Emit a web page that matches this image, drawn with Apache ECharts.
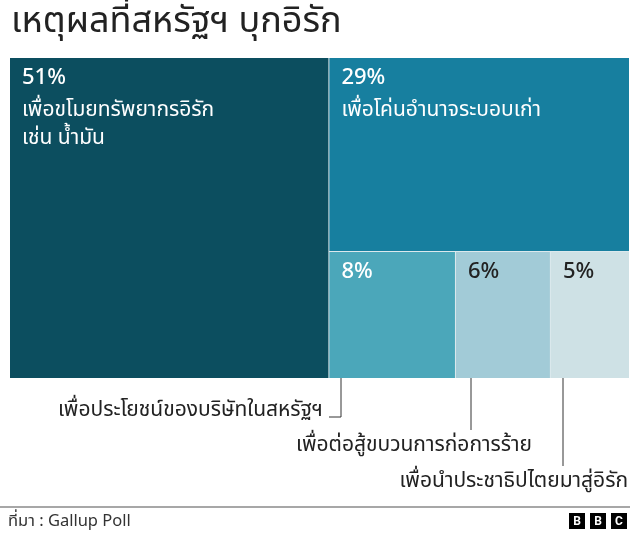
<!DOCTYPE html>
<html>
<head>
<meta charset="utf-8">
<script src="https://cdn.jsdelivr.net/npm/echarts@6/dist/echarts.min.js"></script>
<style>
  html, body { margin: 0; padding: 0; background: #fff; }
  #chart { width: 640px; height: 538px; }
</style>
</head>
<body>
<div id="chart"></div>
<script>
// ข้อมูล: เหตุผลที่สหรัฐฯ บุกอิรัก (Gallup Poll)
var reasons = [
  'เพื่อขโมยทรัพยากรอิรัก\nเช่น น้ำมัน',
  'เพื่อโค่นอำนาจระบอบเก่า',
  'เพื่อประโยชน์ของบริษัทในสหรัฐฯ',
  'เพื่อต่อสู้ขบวนการก่อการร้าย',
  'เพื่อนำประชาธิปไตยมาสู่อิรัก'
];
var shares = [51, 29, 8, 6, 5];
var boxColors = ['#0c4e5f', '#177f9f', '#4ba7ba', '#a2cbd7', '#cee1e5'];
var textColors = ['#ffffff', '#ffffff', '#ffffff', '#222222', '#222222'];
// ชื่อแสดงในกล่องเฉพาะกล่องใหญ่ ที่เหลือใช้เส้นชี้ด้านล่าง
var nameInside = [true, true, false, false, false];

var FONT = '"Noto Sans Thai", "Noto Sans", sans-serif';

function leaf(i) {
  var txt = '{p|' + shares[i] + '%}';
  if (nameInside[i]) {
    txt += '\n' + reasons[i].split('\n').map(function (s) { return '{n|' + s + '}'; }).join('\n');
  }
  return {
    name: reasons[i],
    value: shares[i],
    itemStyle: { color: boxColors[i], borderWidth: 0 },
    label: {
      formatter: txt,
      rich: {
        p: { fontSize: 22, fontWeight: 500, color: textColors[i], lineHeight: 36, fontFamily: FONT },
        n: { fontSize: 21, color: textColors[i], lineHeight: 28, fontFamily: FONT }
      }
    }
  };
}

// 51% | (29% / (8% 6% 5%))
var treeData = [
  leaf(0),
  {
    name: 'rest',
    children: [
      leaf(1),
      { name: 'small', children: [leaf(2), leaf(3), leaf(4)] }
    ]
  }
];

var chart = echarts.init(document.getElementById('chart'));

var lineColor = '#333';
var noteStyle = { fontSize: 21, fill: '#222', fontFamily: FONT };

chart.setOption({
  animation: false,
  title: {
    text: 'เหตุผลที่สหรัฐฯ บุกอิรัก',
    left: 6,
    top: 2,
    textStyle: { fontSize: 36, fontWeight: 'normal', color: '#222', fontFamily: FONT }
  },
  series: [{
    type: 'treemap',
    left: 10,
    top: 58,
    width: 619,
    height: 320,
    roam: false,
    nodeClick: false,
    squareRatio: 1,
    breadcrumb: { show: false },
    sort: false,
    itemStyle: { borderWidth: 0, gapWidth: 1, borderColor: '#dce9ed' },
    upperLabel: { show: false },
    label: {
      show: true,
      position: 'insideTopLeft',
      padding: [4, 4, 4, 12],
      overflow: 'none'
    },
    emphasis: { disabled: true },
    data: treeData
  }],
  graphic: [
    // เส้นชี้ 8%
    { type: 'polyline', shape: { points: [[341, 358], [341, 417], [329, 417]] }, style: { stroke: lineColor, lineWidth: 1, fill: null } },
    { type: 'text', style: Object.assign({ text: reasons[2], x: 323, y: 412, align: 'right', verticalAlign: 'middle' }, noteStyle) },
    // เส้นชี้ 6%
    { type: 'line', shape: { x1: 471, y1: 358, x2: 471, y2: 430 }, style: { stroke: lineColor, lineWidth: 1 } },
    { type: 'text', style: Object.assign({ text: reasons[3], x: 532, y: 447, align: 'right', verticalAlign: 'middle' }, noteStyle) },
    // เส้นชี้ 5%
    { type: 'line', shape: { x1: 563, y1: 358, x2: 563, y2: 466 }, style: { stroke: lineColor, lineWidth: 1 } },
    { type: 'text', style: Object.assign({ text: reasons[4], x: 628, y: 483, align: 'right', verticalAlign: 'middle' }, noteStyle) },
    // ส่วนท้าย
    { type: 'line', shape: { x1: 0, y1: 507, x2: 630, y2: 507 }, style: { stroke: '#8a8a8a', lineWidth: 1.5 } },
    { type: 'text', style: { text: 'ที่มา : Gallup Poll', x: 8, y: 523, verticalAlign: 'middle', fontSize: 16.5, fill: '#333', fontFamily: FONT } },
    { type: 'rect', shape: { x: 569, y: 513, width: 16, height: 16 }, style: { fill: '#000' } },
    { type: 'rect', shape: { x: 590, y: 513, width: 16, height: 16 }, style: { fill: '#000' } },
    { type: 'rect', shape: { x: 611, y: 513, width: 16, height: 16 }, style: { fill: '#000' } },
    { type: 'text', style: { text: 'B', x: 577, y: 521.5, align: 'center', verticalAlign: 'middle', fontSize: 12, fontWeight: 'bold', fill: '#fff', fontFamily: 'Roboto, sans-serif' } },
    { type: 'text', style: { text: 'B', x: 598, y: 521.5, align: 'center', verticalAlign: 'middle', fontSize: 12, fontWeight: 'bold', fill: '#fff', fontFamily: 'Roboto, sans-serif' } },
    { type: 'text', style: { text: 'C', x: 619, y: 521.5, align: 'center', verticalAlign: 'middle', fontSize: 12, fontWeight: 'bold', fill: '#fff', fontFamily: 'Roboto, sans-serif' } }
  ]
});
</script>
</body>
</html>
